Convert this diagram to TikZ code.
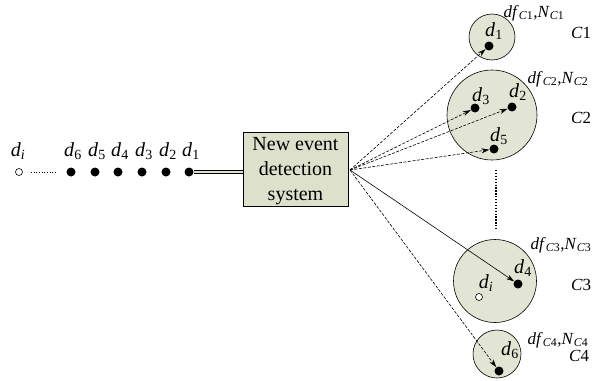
\documentclass[tikz,border=0pt]{standalone}
\usepackage{fontspec}
\setmainfont{Liberation Serif}
\usetikzlibrary{arrows.meta}
\definecolor{boxfill}{HTML}{DDE1CC}
\definecolor{cfill}{HTML}{E2E5D3}
\newcommand{\dl}[1]{\textit{d}\textsubscript{#1}}
\newcommand{\cl}[1]{\textit{df}\textsubscript{\textit{C}#1},\textit{N}\textsubscript{\textit{C}#1}}
\tikzset{
  lbl/.style={inner sep=0pt,font=\fontsize{20}{24}\selectfont},
  clbl/.style={inner sep=0pt,font=\fontsize{17}{20}\selectfont},
  dot/.style={circle,fill=black,inner sep=0pt,minimum size=9pt},
  odot/.style={circle,draw=black,fill=white,line width=0.6pt,inner sep=0pt,minimum size=7pt},
  clus/.style={circle,draw=black,fill=cfill,line width=0.6pt,inner sep=0pt},
  arr/.style={-{Stealth[length=8pt,width=5pt]},line width=0.6pt},
  dsh/.style={arr,dash pattern=on 3pt off 1.5pt},
}
\begin{document}
\begin{tikzpicture}[x=1pt,y=-1pt]
\useasboundingbox (0,0) rectangle (593,380);
% left queue
\node[odot] (qi) at (19,172) {};
\node[lbl] at (18,151) {\dl{\textit{i}}};
\foreach \x/\n in {71/6,95/5,118/4,142/3,166/2,189/1}{
  \node[dot] (q\n) at (\x,172) {};
  \node[lbl] at (\x+2,151) {\dl{\n}};
}
\draw[line width=0.7pt,dotted] (qi.east) ++(8,0) coordinate (qa) -- ++(26,0) coordinate (qb);
% box
\node[draw=black,fill=boxfill,line width=0.6pt,minimum width=105pt,minimum height=74pt,align=center,
      font=\fontsize{20}{25}\selectfont,inner sep=0pt] (box) at (295.5,169) {};
\node[align=center,font=\fontsize{20}{25}\selectfont,inner sep=0pt] (boxtext) at (295.5,171) {New event\\detection\\system};
\draw[double=boxfill,double distance=2.5pt,line width=0.6pt] (q1.east) -- (box.west|-q1);
\coordinate (src) at (350,170);
% clusters
\node[clus,minimum size=46pt] (c1) at (492,37) {};
\node[clus,minimum size=90pt] (c2) at (492,115) {};
\node[clus,minimum size=83pt] (c3) at (495,281) {};
\node[clus,minimum size=48pt] (c4) at (497,354) {};
% points
\node[dot] (p1) at (489,46) {};
\node[lbl] at (494,31) {\dl{1}};
\node[dot] (p3) at (475,108) {};
\node[lbl] at (481,96) {\dl{3}};
\node[dot] (p2) at (512,107) {};
\node[lbl] at (518,92) {\dl{2}};
\node[dot] (p5) at (494,149) {};
\node[lbl] at (499,136) {\dl{5}};
\node[dot] (p4) at (518,284) {};
\node[lbl] at (523,268) {\dl{4}};
\node[odot] (pi) at (479,297) {};
\node[lbl] at (486,283) {\dl{\textit{i}}};
\node[dot] (p6) at (499,371) {};
\node[lbl] at (510,350) {\dl{6}};
% cluster labels
\node[clbl] at (534,13) {\cl{1}};
\node[clbl] at (558,79) {\cl{2}};
\node[clbl] at (561,245) {\cl{3}};
\node[clbl] at (558,340) {\cl{4}};
\node[clbl] at (581,33) {\textit{C}1};
\node[clbl] at (581,118) {\textit{C}2};
\node[clbl] at (581,285) {\textit{C}3};
\node[clbl] at (579,356) {\textit{C}4};
% vertical dots
\draw[line width=1.3pt,dash pattern=on 1.3pt off 1.6pt] (496,170) coordinate (va) -- (496,230) coordinate (vb);
% arrows
\draw[dsh] (src) -- (p1);
\draw[dsh] (src) -- (p3);
\draw[dsh] (src) -- (p2);
\draw[dsh] (src) -- (p5);
\draw[arr] (src) -- (p4);
\draw[dsh] (src) -- (p6);
\end{tikzpicture}
\end{document}
